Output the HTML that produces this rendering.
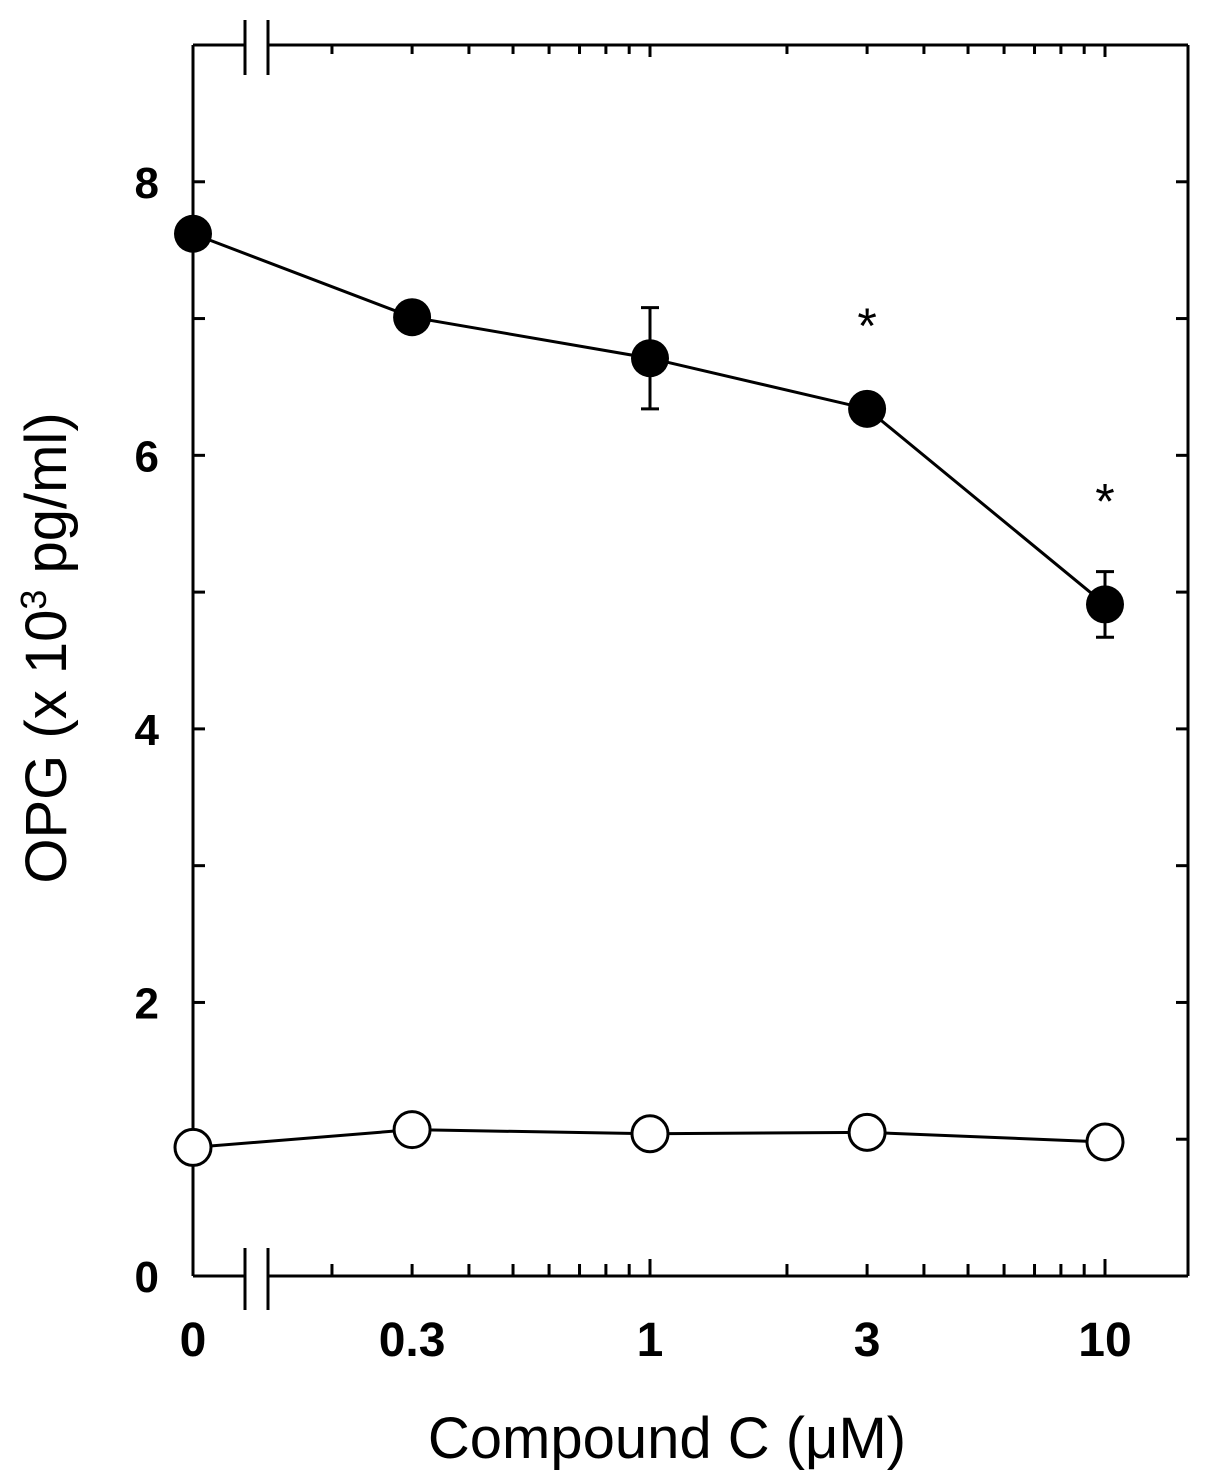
<!DOCTYPE html>
<html><head><meta charset="utf-8"><style>body{margin:0;background:#fff}svg{display:block}</style></head>
<body>
<svg id="chart" width="1205" height="1481" xmlns="http://www.w3.org/2000/svg" font-family="Liberation Sans, Arial, sans-serif"></svg>
<script>
const xCats = [0, 0.3, 1, 3, 10];
const xTickLabels = ["0", "0.3", "1", "3", "10"];
const filledVals = [7.62, 7.01, 6.71, 6.34, 4.91];
const filledErr = [0, 0, 0.37, 0, 0.24];
const openVals = [0.94, 1.07, 1.04, 1.05, 0.98];
const sigMarks = [false, false, false, true, true];
const yTicks = [0, 2, 4, 6, 8];

const svg = document.getElementById('chart');
const NS = 'http://www.w3.org/2000/svg';
const L = 193, R = 1188, T = 45, B = 1276;
function ys(v) { return B - v * (B - T) / 9; }
function xs(v) { return v === 0 ? L : 650 + Math.log10(v) * 455; }
function mk(tag, attrs, name, parent) {
  const e = document.createElementNS(NS, tag);
  for (const k in attrs) e.setAttribute(k, attrs[k]);
  
  
  (parent || svg).appendChild(e);
  return e;
}
const sw = 3;
mk('line', {x1: L, y1: T, x2: L, y2: B, stroke: '#000', 'stroke-width': sw}, 'y-axis-left');
mk('line', {x1: R, y1: T, x2: R, y2: B, stroke: '#000', 'stroke-width': sw}, 'y-axis-right');
mk('line', {x1: L, y1: B, x2: 245, y2: B, stroke: '#000', 'stroke-width': sw}, 'x-axis-bottom-left');
mk('line', {x1: 268, y1: B, x2: R, y2: B, stroke: '#000', 'stroke-width': sw}, 'x-axis-bottom');
mk('line', {x1: L, y1: T, x2: 245, y2: T, stroke: '#000', 'stroke-width': sw}, 'x-axis-top-left');
mk('line', {x1: 268, y1: T, x2: R, y2: T, stroke: '#000', 'stroke-width': sw}, 'x-axis-top');
[245, 268].forEach(x => {
  mk('line', {x1: x, y1: B - 28, x2: x, y2: B + 34, stroke: '#000', 'stroke-width': sw}, 'axis-break-bottom');
  mk('line', {x1: x, y1: T - 25, x2: x, y2: T + 30, stroke: '#000', 'stroke-width': sw}, 'axis-break-top');
});
for (let v = 1; v <= 8; v++) {
  mk('line', {x1: L, y1: ys(v), x2: L + 12, y2: ys(v), stroke: '#000', 'stroke-width': sw}, 'y-tick');
  mk('line', {x1: R, y1: ys(v), x2: R - 12, y2: ys(v), stroke: '#000', 'stroke-width': sw}, 'y-tick-right');
}
yTicks.forEach(v => {
  const t = mk('text', {x: 159, y: ys(v) + 16, 'text-anchor': 'end', 'font-size': 44, 'font-weight': 'bold'}, 'y-tick-label');
  t.textContent = v;
});
for (let d = -1; d <= 0; d++) {
  for (let m = 1; m <= 9; m++) {
    const v = m * Math.pow(10, d);
    if (v < 0.2) continue;
    const major = (v === 1);
    const xx = xs(v);
    mk('line', {x1: xx, y1: B, x2: xx, y2: B - (major ? 17 : 12), stroke: '#000', 'stroke-width': sw}, 'x-tick');
    mk('line', {x1: xx, y1: T, x2: xx, y2: T + (major ? 12 : 9), stroke: '#000', 'stroke-width': sw}, 'x-tick-top');
  }
}
mk('line', {x1: xs(10), y1: B, x2: xs(10), y2: B - 17, stroke: '#000', 'stroke-width': sw}, 'x-tick');
mk('line', {x1: xs(10), y1: T, x2: xs(10), y2: T + 12, stroke: '#000', 'stroke-width': sw}, 'x-tick-top');
xCats.forEach((c, i) => {
  const t = mk('text', {x: xs(c), y: 1356, 'text-anchor': 'middle', 'font-size': 48, 'font-weight': 'bold'}, 'x-tick-label');
  t.textContent = xTickLabels[i];
});
const xt = mk('text', {x: 667, y: 1458, 'text-anchor': 'middle', 'font-size': 58}, 'x-axis-title');
xt.textContent = 'Compound C (\u03bcM)';
const yt = mk('text', {x: 0, y: 0, 'text-anchor': 'middle', 'font-size': 58, transform: 'translate(66,648) rotate(-90)'}, 'y-axis-title');
yt.innerHTML = 'OPG (x 10<tspan dy="-20" font-size="36">3</tspan><tspan dy="20"> pg/ml)</tspan>';
function poly(vals, name) {
  mk('polyline', {points: vals.map((v, i) => xs(xCats[i]) + ',' + ys(v)).join(' '), fill: 'none', stroke: '#000', 'stroke-width': 3}, name);
}
poly(filledVals, 'line-with-treatment');
poly(openVals, 'line-control');
filledVals.forEach((v, i) => {
  const e = filledErr[i];
  if (e > 0) {
    const x = xs(xCats[i]);
    mk('line', {x1: x, y1: ys(v + e), x2: x, y2: ys(v - e), stroke: '#000', 'stroke-width': 3}, 'error-bar');
    mk('line', {x1: x - 9, y1: ys(v + e), x2: x + 9, y2: ys(v + e), stroke: '#000', 'stroke-width': 3}, 'error-cap');
    mk('line', {x1: x - 9, y1: ys(v - e), x2: x + 9, y2: ys(v - e), stroke: '#000', 'stroke-width': 3}, 'error-cap');
  }
});
filledVals.forEach((v, i) => mk('circle', {cx: xs(xCats[i]), cy: ys(v), r: 19, fill: '#000'}, 'point-filled'));
openVals.forEach((v, i) => mk('circle', {cx: xs(xCats[i]), cy: ys(v), r: 18, fill: '#fff', stroke: '#000', 'stroke-width': 3}, 'point-open'));
sigMarks.forEach((s, i) => {
  if (!s) return;
  const t = mk('text', {x: xs(xCats[i]), y: ys(filledVals[i] + (i === 4 ? 0.63 : 0.48)), 'text-anchor': 'middle', 'font-size': 50}, 'significance-asterisk');
  t.textContent = '*';
});
</script>
</body></html>
